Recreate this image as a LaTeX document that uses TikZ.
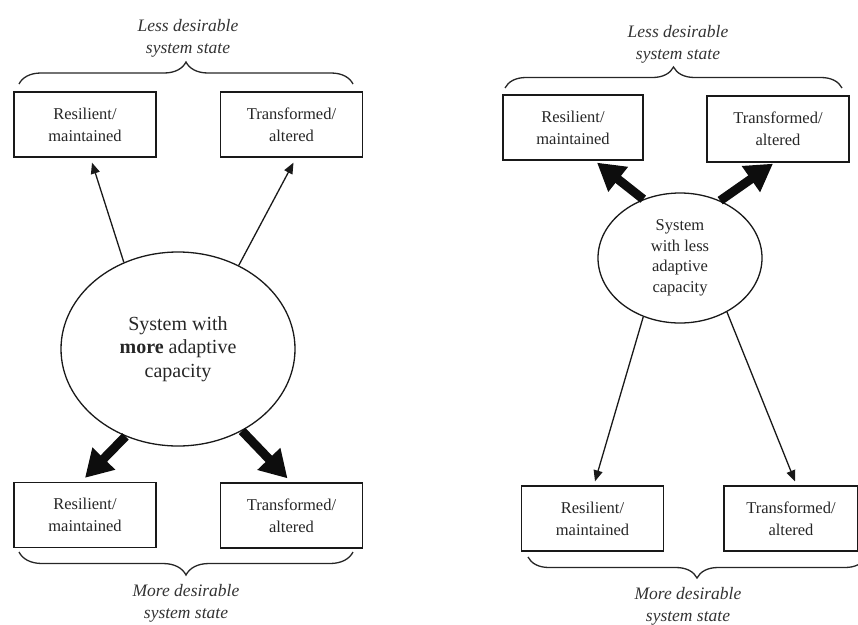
\documentclass[tikz,border=0pt]{standalone}
\usepackage{fontspec}
\setmainfont{Liberation Serif}
\usetikzlibrary{arrows.meta,shapes.geometric,decorations.pathreplacing}

\begin{document}
\begin{tikzpicture}[x=1pt,y=-1pt,
  statebox/.style={draw=black!90, line width=1.3pt, minimum width=142pt,
    minimum height=65pt, align=center, inner sep=0pt, text=black!85,
    font=\fontsize{16.5}{22}\selectfont},
  sysnode/.style={draw=black!90, ellipse, line width=1.3pt, align=center,
    inner sep=0pt, text=black!85},
  weakarrow/.style={draw=black!90, line width=1.3pt,
    -{Triangle[length=11pt,width=9pt]}},
  strongarrow/.style={draw=black!95, line width=9pt,
    -{Triangle[length=27pt,width=30pt]}},
  bracelabel/.style={align=center, text=black!80,
    font=\itshape\fontsize{17.5}{22}\selectfont},
  bracemark/.style={draw=black!85, line width=1.3pt, decorate,
    decoration={brace, amplitude=#1}}]

\useasboundingbox (0,0) rectangle (858,624);

% ---------------- left panel: more adaptive capacity ----------------
\node[statebox] (ltl) at (85,124.5) {Resilient/\\maintained};
\node[statebox] (ltr) at (291.5,124.5) {Transformed/\\altered};
\node[sysnode, minimum width=234pt, minimum height=194pt,
      font=\fontsize{20}{23.5}\selectfont] (lsys) at (178,349)
      {System with\\\textbf{more} adaptive\\capacity};
\node[statebox] (lbl) at (85,515) {Resilient/\\maintained};
\node[statebox] (lbr) at (291.5,515.5) {Transformed/\\altered};

\draw[weakarrow] (lsys.122) -- ([xshift=7pt,yshift=-5pt]ltl.south);
\draw[weakarrow] (lsys.54) -- ([xshift=2pt,yshift=-5pt]ltr.south);
\draw[strongarrow] (lsys.-121) -- ([yshift=4pt]lbl.north);
\draw[strongarrow] (lsys.-52) -- ([xshift=-4pt,yshift=4pt]lbr.north);

\draw[bracemark=22pt] (19,84) -- (353,84);
\draw[bracemark=23pt] (353,552) -- (19,552);
\node[bracelabel] (ltop) at (188,38) {Less desirable\\system state};
\node[bracelabel] (lbot) at (186,603) {More desirable\\system state};

% ---------------- right panel: less adaptive capacity ----------------
\node[statebox, minimum width=140pt] (rtl) at (573,127.5) {Resilient/\\maintained};
\node[statebox, minimum height=66pt] (rtr) at (778,129) {Transformed/\\altered};
\node[sysnode, minimum width=164pt, minimum height=130pt,
      font=\fontsize{16.5}{20.5}\selectfont] (rsys) at (680,258)
      {System\\with less\\adaptive\\capacity};
\node[statebox] (rbl) at (592.5,518.5) {Resilient/\\maintained};
\node[statebox, minimum width=134pt] (rbr) at (791,518.5) {Transformed/\\altered};

\draw[strongarrow] (rsys.122) -- ([xshift=24pt,yshift=-2pt]rtl.south);
\draw[strongarrow] (rsys.55) -- ([xshift=-5pt,yshift=-1pt]rtr.south);
\draw[weakarrow] (rsys.-122) -- ([xshift=2.5pt,yshift=4pt]rbl.north);
\draw[weakarrow] (rsys.-49) -- ([xshift=4pt,yshift=4pt]rbr.north);

\draw[bracemark=21pt] (505,88) -- (842,88);
\draw[bracemark=21pt] (866,557) -- (528,557);
\node[bracelabel] (rtop) at (678,44) {Less desirable\\system state};
\node[bracelabel] (rbot) at (688,606.5) {More desirable\\system state};

\end{tikzpicture}
\end{document}
